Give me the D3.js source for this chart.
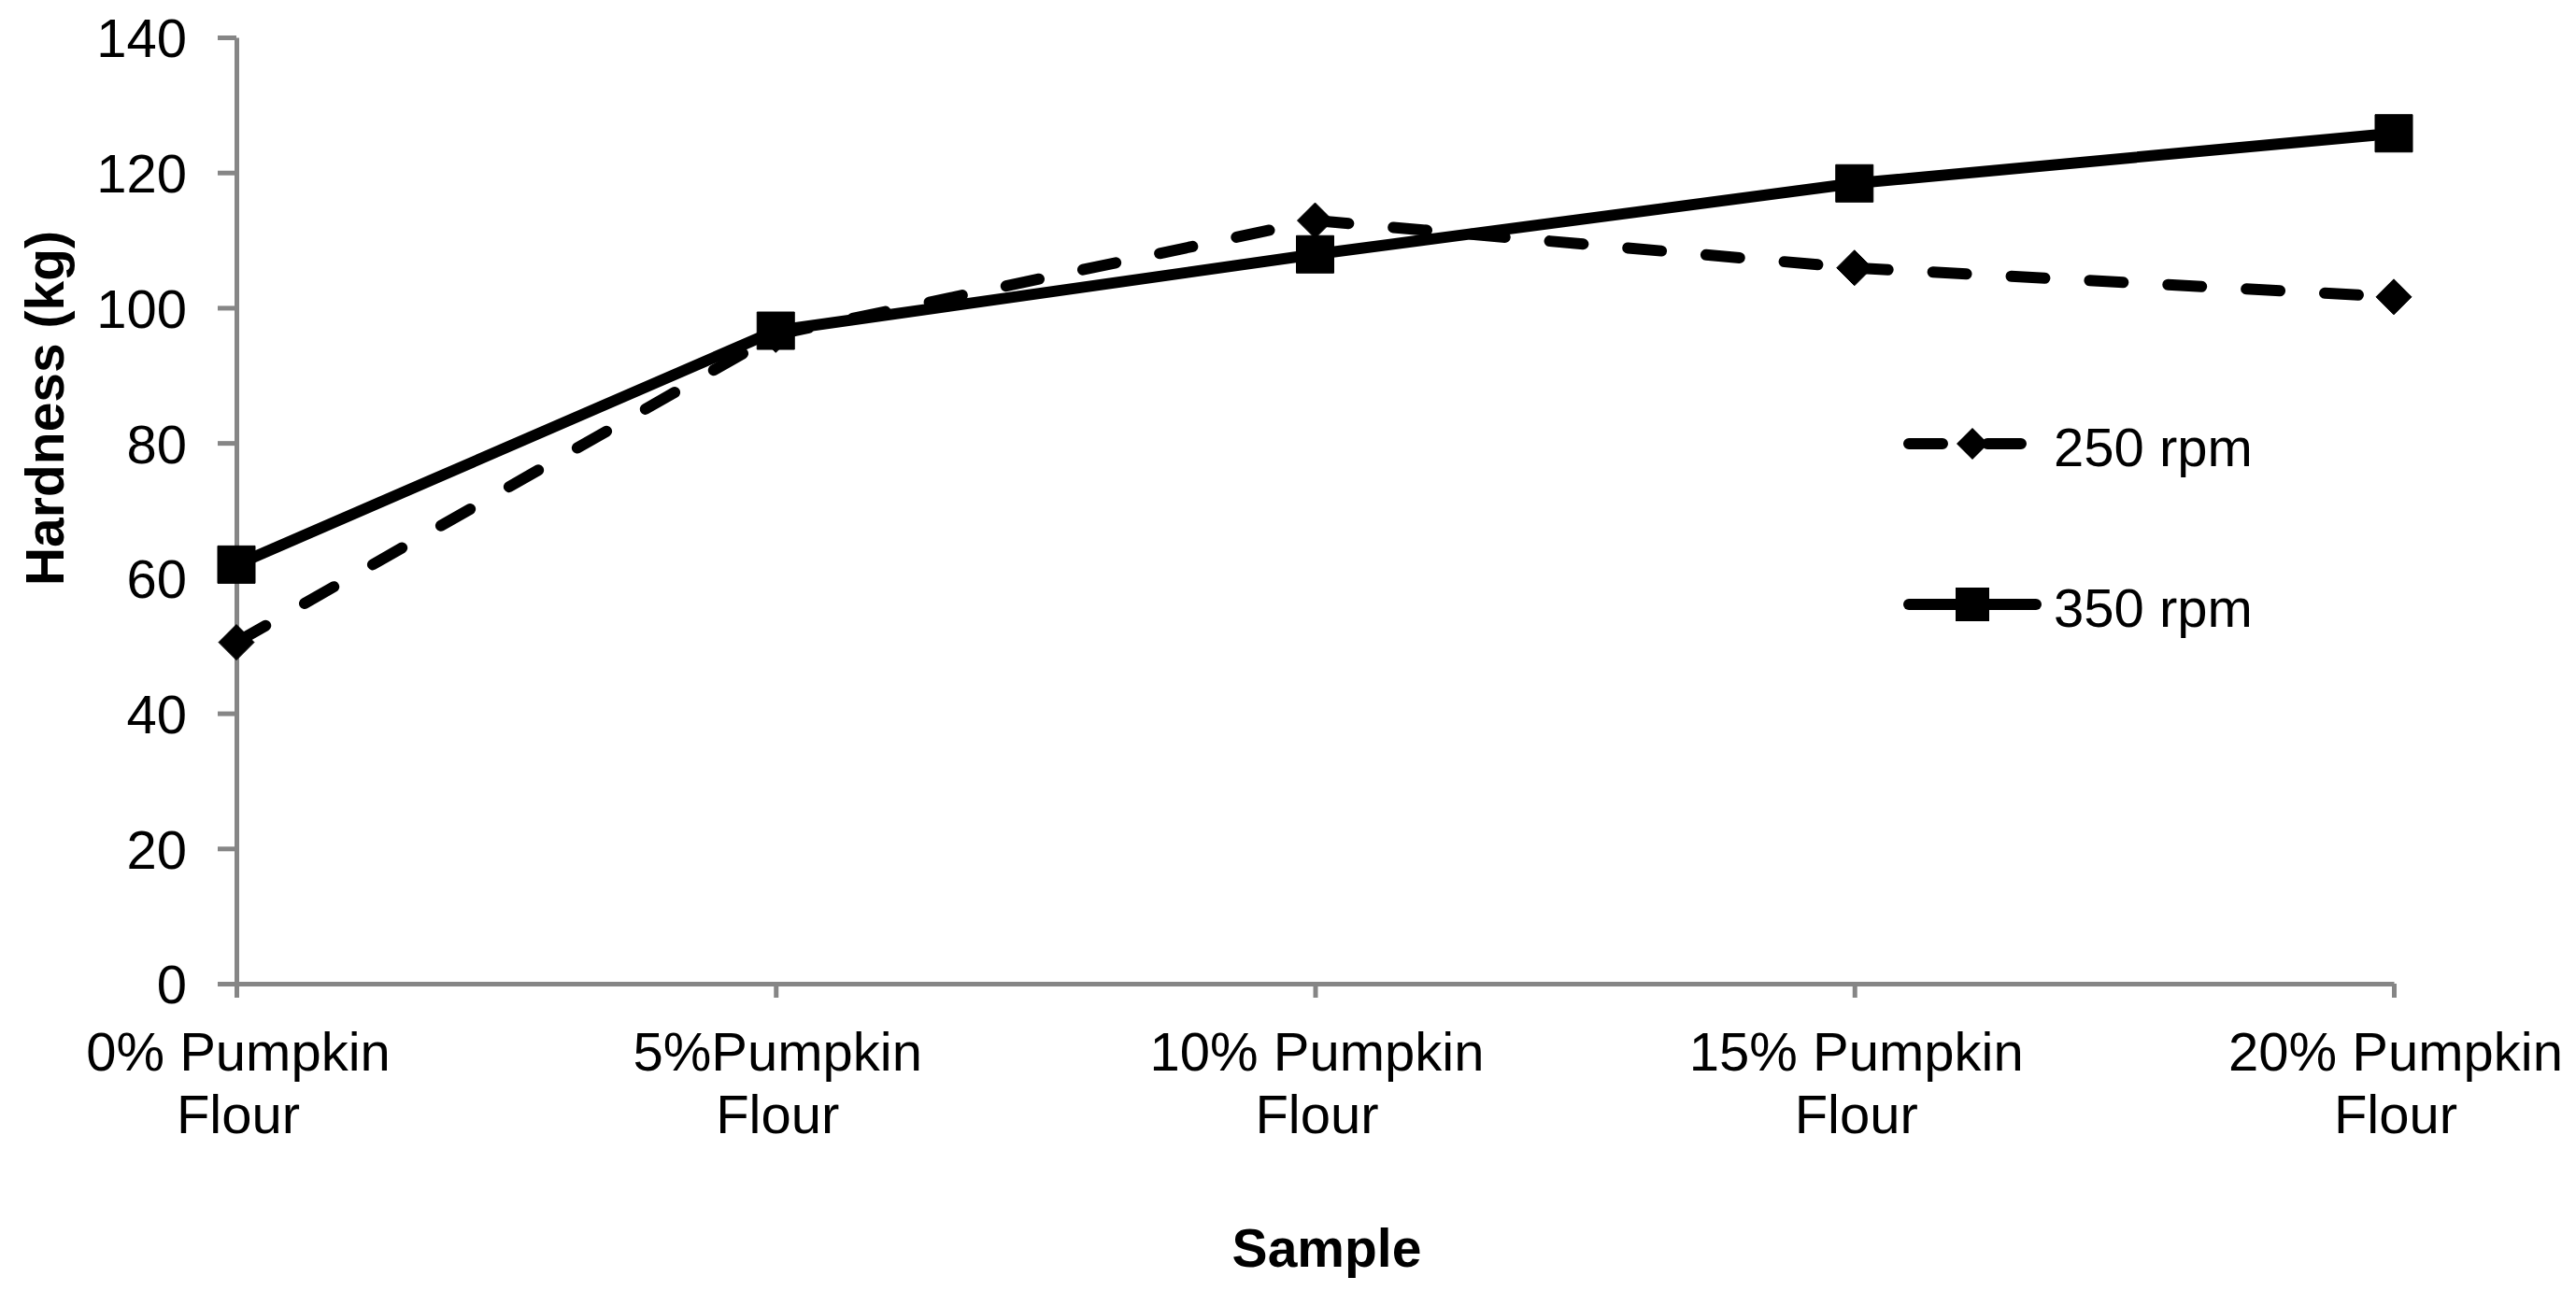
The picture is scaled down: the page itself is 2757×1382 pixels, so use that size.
<!DOCTYPE html>
<html>
<head>
<meta charset="utf-8">
<script src="https://cdn.jsdelivr.net/npm/d3@7"></script>
<style>
  html, body { margin: 0; padding: 0; background: #ffffff; }
  svg { display: block; }
  text { font-family: "Liberation Sans", Arial, sans-serif; fill: #000; }
</style>
</head>
<body>
<svg id="chart" width="2757" height="1382"></svg>
<script>
// ---- data ----
const categories = ["0% Pumpkin Flour", "5%Pumpkin Flour", "10% Pumpkin Flour", "15% Pumpkin Flour", "20% Pumpkin Flour"];
const categoryLines = [["0% Pumpkin", "Flour"], ["5%Pumpkin", "Flour"], ["10% Pumpkin", "Flour"], ["15% Pumpkin", "Flour"], ["20% Pumpkin", "Flour"]];
const seriesNames = ["250 rpm", "350 rpm"];
const values250 = [50.5, 96.0, 112.9, 105.9, 101.6];
const values350 = [62.0, 96.6, 107.9, 118.4, 125.8];
const yTicks = [0, 20, 40, 60, 80, 100, 120, 140];
const yTitle = "Hardness (kg)";
const xTitle = "Sample";

// ---- layout ----
const svg = d3.select("#chart");
const axisColor = "#868686";
const fontSize = 58;

const x = d3.scalePoint().domain(categories).range([253, 2562]).padding(0);
const y = d3.scaleLinear().domain([0, 140]).range([1053, 40]);

// Y axis
const yAxis = d3.axisLeft(y).tickValues(yTicks).tickSizeInner(20).tickSizeOuter(0).tickPadding(33);
const gy = svg.append("g").attr("transform", `translate(${x(categories[0])},0)`).call(yAxis);
gy.select(".domain").attr("stroke", axisColor).attr("stroke-width", 5);
gy.selectAll(".tick line").attr("stroke", axisColor).attr("stroke-width", 5);
gy.selectAll(".tick text").attr("font-size", fontSize).attr("dy", "0.36em")
  .attr("font-family", '"Liberation Sans", Arial, sans-serif').attr("fill", "#000");

// X axis
const xAxis = d3.axisBottom(x).tickSizeInner(15).tickSizeOuter(0).tickFormat("");
const gx = svg.append("g").attr("transform", `translate(0,${y(0)})`).call(xAxis);
gx.select(".domain").attr("stroke", axisColor).attr("stroke-width", 5);
gx.selectAll(".tick line").attr("stroke", axisColor).attr("stroke-width", 5);

// X tick labels (two lines)
const xl = svg.append("g");
categories.forEach((c, i) => {
  const t = xl.append("text").attr("text-anchor", "middle").attr("font-size", fontSize);
  categoryLines[i].forEach((ln, j) => {
    t.append("tspan").attr("x", x(c) + 2).attr("y", 1146 + j * 67).text(ln);
  });
});

// Axis titles
svg.append("text").attr("transform", "translate(68,437) rotate(-90)")
  .attr("text-anchor", "middle").attr("font-size", 57).attr("font-weight", "bold").text(yTitle);
svg.append("text").attr("x", 1420).attr("y", 1356)
  .attr("text-anchor", "middle").attr("font-size", 57).attr("font-weight", "bold").text(xTitle);

// marker paths
function diamondPath(cx, cy, r) {
  return `M${cx},${cy - r}L${cx + r},${cy}L${cx},${cy + r}L${cx - r},${cy}Z`;
}
function squarePath(cx, cy, s) {
  const h = s / 2;
  return `M${cx - h},${cy - h}H${cx + h}V${cy + h}H${cx - h}Z`;
}

const line = d3.line().x(d => x(d.c)).y(d => y(d.v));

function drawSeries(vals, dashed, marker) {
  const pts = categories.map((c, i) => ({ c, v: vals[i] }));
  const g = svg.append("g");
  if (dashed) {
    // dash pattern restarts at each data point
    for (let i = 0; i < pts.length - 1; i++) {
      g.append("path").attr("d", line([pts[i], pts[i + 1]]))
        .attr("fill", "none").attr("stroke", "#000").attr("stroke-width", 12)
        .attr("stroke-linecap", "round").attr("stroke-dasharray", "36,48");
    }
  } else {
    g.append("path").attr("d", line(pts))
      .attr("fill", "none").attr("stroke", "#000").attr("stroke-width", 12)
      .attr("stroke-linejoin", "round").attr("stroke-linecap", "butt");
  }
  g.selectAll("path.marker").data(pts).enter().append("path")
    .attr("class", "marker")
    .attr("d", d => marker === "diamond" ? diamondPath(x(d.c), y(d.v), 19) : squarePath(x(d.c), y(d.v), 40))
    .attr("fill", "#000").attr("stroke", "#000").attr("stroke-width", 1).attr("stroke-linejoin", "round");
}

drawSeries(values250, true, "diamond");
drawSeries(values350, false, "square");

// Legend
const legend = svg.append("g");
const legendRows = [
  { name: seriesNames[0], y: 475, dashed: true, marker: "diamond" },
  { name: seriesNames[1], y: 647, dashed: false, marker: "square" }
];
legendRows.forEach(r => {
  const p = legend.append("path").attr("d", `M2043,${r.y}H2179`)
    .attr("fill", "none").attr("stroke", "#000").attr("stroke-width", 12).attr("stroke-linecap", "round");
  if (r.dashed) p.attr("stroke-dasharray", "36,48");
  legend.append("path")
    .attr("d", r.marker === "diamond" ? diamondPath(2111, r.y, 17) : squarePath(2111, r.y, 36))
    .attr("fill", "#000");
  legend.append("text").attr("x", 2198).attr("y", r.y + 24).attr("font-size", fontSize).text(r.name);
});
</script>
</body>
</html>
